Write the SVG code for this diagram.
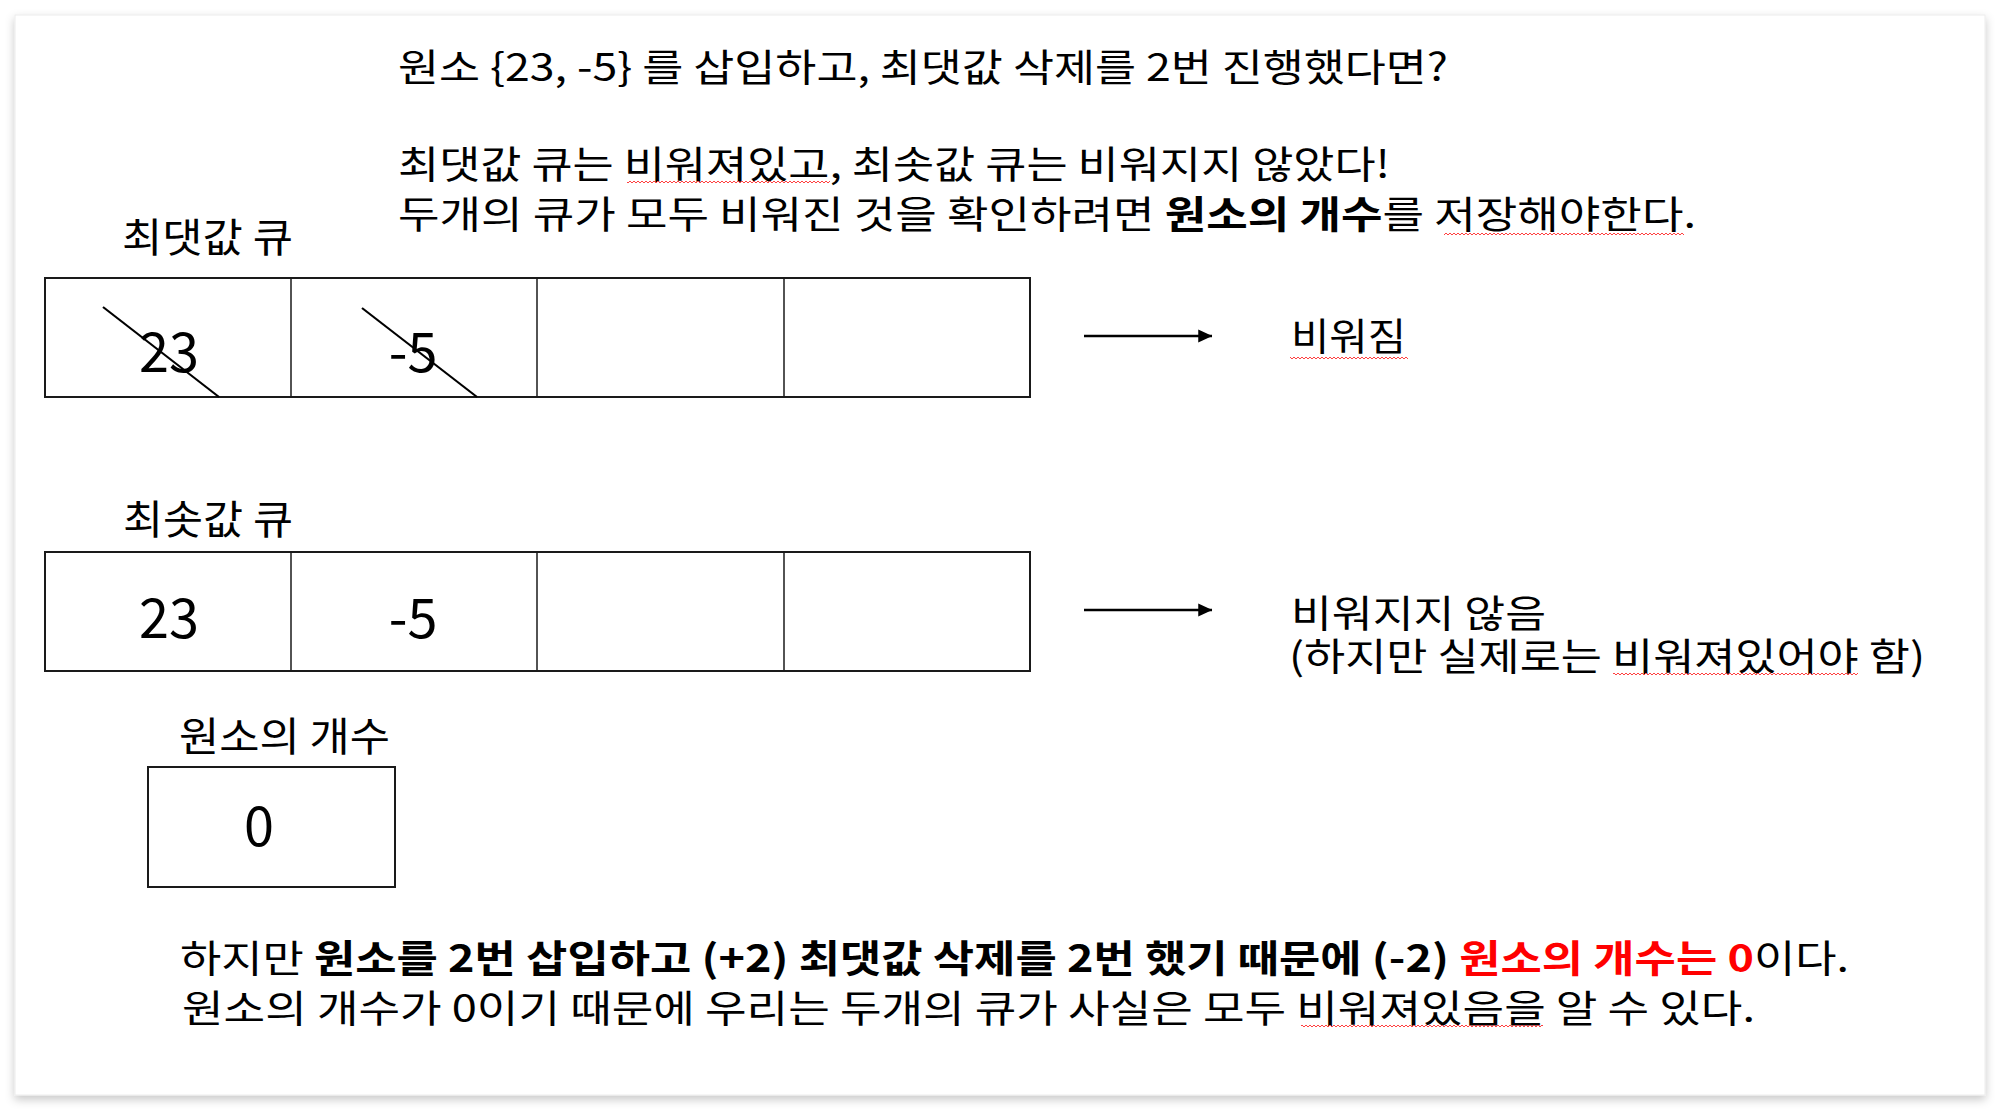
<svg xmlns="http://www.w3.org/2000/svg" width="2000" height="1111" viewBox="0 0 2000 1111">
<style>
.t{font-family:"Noto Sans CJK KR","Noto Sans",sans-serif;font-size:38px;fill:#000}
.lb{font-size:40px}
.num{font-family:"Noto Sans CJK KR","Noto Sans",sans-serif;font-size:54px;fill:#000;text-anchor:middle}
.b{font-weight:bold}
.red{fill:#ff0000}
.cell{fill:#fff;stroke:#1a1a1a;stroke-width:2}
.div{stroke:#1a1a1a;stroke-width:1.5}
.strike{stroke:#000;stroke-width:2.2}
.arrow{stroke:#000;stroke-width:2.5;fill:none}
.sq{fill:url(#wave)}
</style>
<defs>
<filter id="shadow" x="-5%" y="-5%" width="110%" height="112%">
<feDropShadow dx="0" dy="4" stdDeviation="5" flood-color="#000" flood-opacity="0.22"/>
</filter>
<pattern id="wave" width="4" height="4" patternUnits="userSpaceOnUse">
<path d="M0,3 L2,1 L4,3" fill="none" stroke="#ff4040" stroke-width="1"/>
</pattern>
<marker id="ah" markerWidth="6" markerHeight="6" refX="5.5" refY="3" orient="auto" markerUnits="strokeWidth">
<path d="M0,0.4 L5.6,3 L0,5.6 Z" fill="#000"/>
</marker>
</defs>
<rect width="2000" height="1111" fill="#fff"/>
<rect id="card" x="15" y="15" width="1970" height="1080" fill="#fff" stroke="#ececec" stroke-width="1" filter="url(#shadow)"/>

<g id="intro">
<text class="t" x="398" y="81" textLength="1050" lengthAdjust="spacingAndGlyphs">원소 {23, -5} 를 삽입하고, 최댓값 삭제를 2번 진행했다면?</text>
<text class="t" x="398" y="178" textLength="992" lengthAdjust="spacingAndGlyphs">최댓값 큐는 비워져있고, 최솟값 큐는 비워지지 않았다!</text>
<text class="t" x="398" y="228" textLength="1298" lengthAdjust="spacingAndGlyphs">두개의 큐가 모두 비워진 것을 확인하려면 <tspan class="b">원소의 개수</tspan>를 저장해야한다.</text>
<rect class="sq" x="627" y="181" width="203" height="4"/>
<rect class="sq" x="1444" y="231" width="240" height="4"/>
</g>

<g id="max-queue">
<text class="t lb" x="122" y="252" textLength="171" lengthAdjust="spacingAndGlyphs">최댓값 큐</text>
<rect class="cell" x="45" y="278" width="985" height="119"/>
<line class="div" x1="291" y1="278" x2="291" y2="397"/>
<line class="div" x1="537" y1="278" x2="537" y2="397"/>
<line class="div" x1="784" y1="278" x2="784" y2="397"/>
<text class="num" x="169" y="372">23</text>
<text class="num" x="413" y="372">-5</text>
<line class="strike" x1="103" y1="307" x2="219" y2="397"/>
<line class="strike" x1="362" y1="308" x2="477" y2="397"/>
</g>

<g id="min-queue">
<text class="t lb" x="123" y="534" textLength="170" lengthAdjust="spacingAndGlyphs">최솟값 큐</text>
<rect class="cell" x="45" y="552" width="985" height="119"/>
<line class="div" x1="291" y1="552" x2="291" y2="671"/>
<line class="div" x1="537" y1="552" x2="537" y2="671"/>
<line class="div" x1="784" y1="552" x2="784" y2="671"/>
<text class="num" x="169" y="638">23</text>
<text class="num" x="413" y="638">-5</text>
</g>

<g id="result-max">
<text class="t" x="1291" y="350" textLength="115" lengthAdjust="spacingAndGlyphs">비워짐</text>
<rect class="sq" x="1290" y="355" width="118" height="4"/>
</g>

<g id="result-min">
<text class="t" x="1291" y="627" textLength="255" lengthAdjust="spacingAndGlyphs">비워지지 않음</text>
<text class="t" x="1289" y="670" textLength="636" lengthAdjust="spacingAndGlyphs">(하지만 실제로는 비워져있어야 함)</text>
<rect class="sq" x="1613" y="671" width="245" height="4"/>
</g>

<g id="count">
<text class="t lb" x="179" y="751" textLength="211" lengthAdjust="spacingAndGlyphs">원소의 개수</text>
<rect class="cell" x="148" y="767" width="247" height="120"/>
<text class="num" x="259" y="846">0</text>
</g>

<g id="connectors">
<line class="arrow" x1="1084" y1="336" x2="1212" y2="336" marker-end="url(#ah)"/>
<line class="arrow" x1="1084" y1="610" x2="1212" y2="610" marker-end="url(#ah)"/>
</g>

<g id="conclusion">
<text class="t" x="180" y="972" textLength="1669" lengthAdjust="spacingAndGlyphs">하지만 <tspan class="b">원소를 2번 삽입하고 (+2) 최댓값 삭제를 2번 했기 때문에 (-2) </tspan><tspan class="b red">원소의 개수는 0</tspan>이다.</text>
<text class="t" x="182" y="1022" textLength="1573" lengthAdjust="spacingAndGlyphs">원소의 개수가 0이기 때문에 우리는 두개의 큐가 사실은 모두 비워져있음을 알 수 있다.</text>
<rect class="sq" x="1301" y="1024" width="242" height="4"/>
</g>
</svg>
